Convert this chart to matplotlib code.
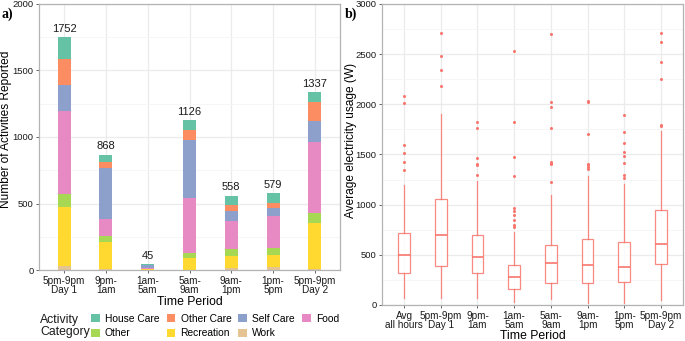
import matplotlib
matplotlib.use("Agg")
import matplotlib.pyplot as plt
from matplotlib.patches import Patch
import numpy as np

# ---- panel a data: activities reported per time period ----
periods_a = ["5pm-9pm\nDay 1", "9pm-\n1am", "1am-\n5am", "5am-\n9am",
             "9am-\n1pm", "1pm-\n5pm", "5pm-9pm\nDay 2"]
totals = [1752, 868, 45, 1126, 558, 579, 1337]

# stacked bottom -> top
work = [30, 5, 2, 3, 17, 20, 10]
recreation = [440, 205, 3, 89, 88, 92, 347]
other = [105, 45, 2, 33, 50, 55, 73]
food = [620, 125, 8, 417, 212, 238, 532]
self_care = [195, 385, 20, 435, 73, 62, 156]
other_care = [193, 45, 6, 78, 45, 35, 145]
house_care = [169, 58, 4, 71, 73, 77, 74]

# ---- panel b data: box plot stats (W) ----
periods_b = ["Avg\nall hours", "5pm-9pm\nDay 1", "9pm-\n1am", "1am-\n5am",
             "5am-\n9am", "9am-\n1pm", "1pm-\n5pm", "5pm-9pm\nDay 2"]
q1 = [320, 387, 320, 160, 220, 220, 230, 410]
med = [503, 693, 480, 277, 417, 400, 383, 603]
q3 = [720, 1060, 693, 400, 593, 660, 630, 947]
wlo = [70, 70, 70, 30, 60, 20, 20, 47]
whi = [1193, 1908, 1233, 727, 1097, 1287, 1203, 1732]
outliers = [
    [1350, 1421, 1517, 1590, 2013, 2086],
    [2182, 2341, 2477, 2709],
    [1300, 1400, 1405, 1461, 1762, 1828],
    [777, 795, 847, 896, 936, 966, 1287, 1474, 1828, 2530],
    [1227, 1405, 1420, 1424, 1762, 1974, 2020, 2702],
    [1360, 1380, 1395, 1410, 1700, 2027, 2033],
    [1263, 1297, 1420, 1481, 1524, 1610, 1725, 1891],
    [1782, 1795, 2252, 2424, 2623, 2712],
]

plt.rcParams["font.family"] = ["Liberation Sans", "DejaVu Sans"]
grid_major = "#EBEBEB"
grid_minor = "#F5F5F5"

fig = plt.figure(figsize=(6.85, 3.41), dpi=100)
ax1 = fig.add_axes([0.0569, 0.2082, 0.4395, 0.7801])
ax2 = fig.add_axes([0.5577, 0.1056, 0.4394, 0.8827])


def style(ax):
    ax.set_facecolor("white")
    for s in ax.spines.values():
        s.set_color("#B3B3B3")
        s.set_linewidth(0.9)
    ax.tick_params(colors="#4D4D4D", length=2.5, width=0.6, pad=1.5)
    ax.tick_params(axis="x", labelsize=7.2)
    ax.tick_params(axis="y", labelsize=6.8)
    ax.tick_params(which="minor", length=0)
    ax.grid(True, which="major", color=grid_major, linewidth=0.9, zorder=0)
    ax.grid(True, which="minor", axis="y", color=grid_minor, linewidth=0.6, zorder=0)
    ax.set_axisbelow(True)
    for lab in ax.get_xticklabels() + ax.get_yticklabels():
        lab.set_color("#1A1A1A")


# ---- panel a ----
cols = {"House Care": "#66C2A5", "Other Care": "#FC8D62", "Self Care": "#8DA0CB",
        "Food": "#E78AC3", "Other": "#A6D854", "Recreation": "#FFD92F", "Work": "#E5C494"}
stack = [("Work", work), ("Recreation", recreation), ("Other", other), ("Food", food),
         ("Self Care", self_care), ("Other Care", other_care), ("House Care", house_care)]
x = np.arange(len(periods_a))
bottom = np.zeros(len(periods_a))
for name, vals in stack:
    ax1.bar(x, vals, bottom=bottom, width=0.31, color=cols[name], zorder=2)
    bottom += np.array(vals)
for xi, t in zip(x, totals):
    ax1.text(xi, t + 25, str(t), ha="center", va="bottom", fontsize=8, color="#1A1A1A")
ax1.set_xlim(-0.6, len(periods_a) - 0.4)
ax1.set_ylim(0, 2000)
ax1.set_yticks([0, 500, 1000, 1500, 2000])
ax1.set_yticks([250, 750, 1250, 1750], minor=True)
ax1.set_xticks(x)
ax1.set_xticklabels(periods_a, linespacing=0.95)
style(ax1)
ax1.set_ylabel("Number of Activities Reported", fontsize=8.6)
ax1.yaxis.set_label_coords(-0.09, 0.53)
ax1.set_xlabel("Time Period", fontsize=8.8, labelpad=0.5)

order = ["House Care", "Other", "Other Care", "Recreation", "Self Care", "Work", "Food"]
handles = [Patch(facecolor=cols[n], edgecolor="none", label=n) for n in order]
fig.legend(handles=handles, ncol=4, loc="center left", bbox_to_anchor=(0.133, 0.044),
           frameon=False, fontsize=7.4, handlelength=0.85, handleheight=0.85,
           handletextpad=0.5, columnspacing=0.7, labelspacing=0.45, borderaxespad=0,
           borderpad=0)
fig.text(0.059, 0.044, "Activity\nCategory", fontsize=8.8, color="#1A1A1A",
         ha="left", va="center", linespacing=1.05)

# ---- panel b ----
stats = []
for i in range(len(periods_b)):
    stats.append(dict(med=med[i], q1=q1[i], q3=q3[i], whislo=wlo[i], whishi=whi[i],
                      fliers=outliers[i]))
box_col = "#F8766D"
ax2.bxp(stats, positions=np.arange(len(periods_b)), widths=0.32, patch_artist=True,
        boxprops=dict(facecolor="white", edgecolor=box_col, linewidth=0.9, alpha=0.85),
        medianprops=dict(color=box_col, linewidth=1.2),
        whiskerprops=dict(color=box_col, linewidth=0.9, alpha=0.85),
        capprops=dict(linewidth=0),
        flierprops=dict(marker="o", markersize=2.2, markerfacecolor=box_col,
                        markeredgecolor="none"),
        zorder=3)
ax2.set_xlim(-0.6, len(periods_b) - 0.4)
ax2.set_ylim(0, 3000)
ax2.set_yticks([0, 500, 1000, 1500, 2000, 2500, 3000])
ax2.set_yticks([250, 750, 1250, 1750, 2250, 2750], minor=True)
ax2.set_xticks(np.arange(len(periods_b)))
ax2.set_xticklabels(periods_b, linespacing=0.95)
style(ax2)
ax2.set_ylabel("Average electricity usage (W)", fontsize=8.6)
ax2.yaxis.set_label_coords(-0.082, 0.547)
ax2.set_xlabel("Time Period", fontsize=8.8, labelpad=0)

fig.text(0.002, 0.948, "a)", fontsize=10, fontweight="bold", family="Liberation Serif")
fig.text(0.503, 0.948, "b)", fontsize=10, fontweight="bold", family="Liberation Serif")

fig.savefig("out.png", dpi=100)
